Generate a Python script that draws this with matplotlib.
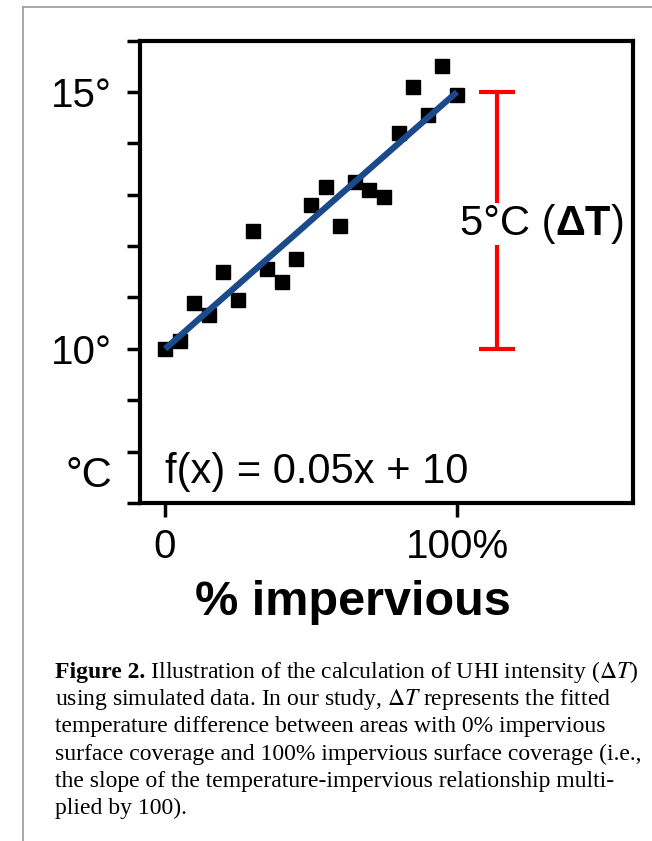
import numpy as np
import matplotlib.pyplot as plt
from matplotlib.lines import Line2D
from matplotlib.transforms import offset_copy

# simulated data
pct_impervious = [0, 5, 10, 15, 20, 25, 30, 35, 40, 45, 50,
                  55, 60, 65, 70, 75, 80, 85, 90, 95, 100]
temperature = [10.0, 10.15, 10.9, 10.65, 11.5, 10.95, 12.3, 11.55, 11.3, 11.75, 12.8,
               13.15, 12.4, 13.25, 13.1, 12.95, 14.2, 15.1, 14.55, 15.5, 14.95]

slope = 0.05
intercept = 10
fit_x = np.array([0, 100])

y_ticks = list(range(7, 17))
y_labels = {10: '10°', 15: '15°'}
x_ticks = [0, 100]
x_labels = ['0', '100%']

caption = [
    'using simulated data. In our study, $\\Delta T$ represents the fitted',
    'temperature difference between areas with 0% impervious',
    'surface coverage and 100% impervious surface coverage (i.e.,',
    'the slope of the temperature-impervious relationship multi-',
    'plied by 100).',
]

plt.rcParams['font.family'] = 'Liberation Sans'
plt.rcParams['mathtext.fontset'] = 'stix'

fig = plt.figure(figsize=(6.52, 8.41), dpi=100)
ax = fig.add_axes([0.2147, 0.4019, 0.7561, 0.5498])

ax.plot(pct_impervious, temperature, 's', color='black', ms=9.5, zorder=2)
ax.plot(fit_x, slope * fit_x + intercept, color='#1a4a8a', lw=4.5,
        solid_capstyle='butt', zorder=3)

# delta T bar
dT = slope * 100
ax.errorbar(113.7, intercept + dT / 2, yerr=dT / 2, color='red', lw=3,
            capsize=13, capthick=3, zorder=2)

t1 = ax.text(101, 12.22, '5°C (', fontsize=30, va='baseline', zorder=4,
             bbox=dict(facecolor='white', edgecolor='none', pad=1))
ax.text(0, 7.39, 'f(x) = 0.05x + 10', fontsize=30, va='baseline')
ax.text(-0.057, 7.32, '°C', fontsize=30, va='baseline', ha='right',
        transform=ax.get_yaxis_transform())

ax.set_xlim(-8.6, 160.3)
ax.set_ylim(7, 16)
ax.set_yticks(y_ticks)
ax.set_yticklabels([y_labels.get(t, '') for t in y_ticks])
ax.set_xticks(x_ticks)
ax.set_xticklabels(x_labels)
ax.tick_params(axis='y', length=9.5, width=2.5, pad=11, labelsize=29)
ax.tick_params(axis='x', length=10, width=2.5, pad=8, labelsize=29)
ax.set_xlabel('% impervious', fontsize=35, fontweight='bold', va='baseline')
ax.xaxis.set_label_coords(0.432, -0.242)
for s in ax.spines.values():
    s.set_linewidth(3)

# caption
cap_x = 55 / 652
base = 678
step = 27.2
csize = 17
c1 = fig.text(cap_x, 1 - base / 841, 'Figure 2.', family='Liberation Serif',
              fontweight='bold', fontsize=csize, va='baseline')
for i, line in enumerate(caption):
    fig.text(cap_x, 1 - (base + step * (i + 1)) / 841, line,
             family='Liberation Serif', fontsize=csize, va='baseline')

# page frame
fig.add_artist(Line2D([23 / 652, 23 / 652], [0, 1 - 7 / 841],
                      transform=fig.transFigure, color='#9a9a9a', lw=1.2))
fig.add_artist(Line2D([23 / 652, 1], [1 - 7 / 841, 1 - 7 / 841],
                      transform=fig.transFigure, color='#9a9a9a', lw=1.2))

# chain mixed-weight pieces after measuring
fig.canvas.draw()
w1 = t1.get_window_extent().width * 72 / fig.dpi
t2 = ax.text(101, 12.22, 'ΔT', fontsize=30, fontweight='bold', va='baseline',
             transform=offset_copy(ax.transData, fig=fig, x=w1, units='points'))
fig.canvas.draw()
w2 = w1 + t2.get_window_extent().width * 72 / fig.dpi
ax.text(101, 12.22, ')', fontsize=30, va='baseline',
        transform=offset_copy(ax.transData, fig=fig, x=w2, units='points'))

wc = c1.get_window_extent().width * 72 / fig.dpi
fig.text(cap_x, 1 - base / 841, ' Illustration of the calculation of UHI intensity ($\\Delta T$)',
         family='Liberation Serif', fontsize=csize, va='baseline',
         transform=offset_copy(fig.transFigure, fig=fig, x=wc, units='points'))

fig.savefig('out.png', dpi=100)
